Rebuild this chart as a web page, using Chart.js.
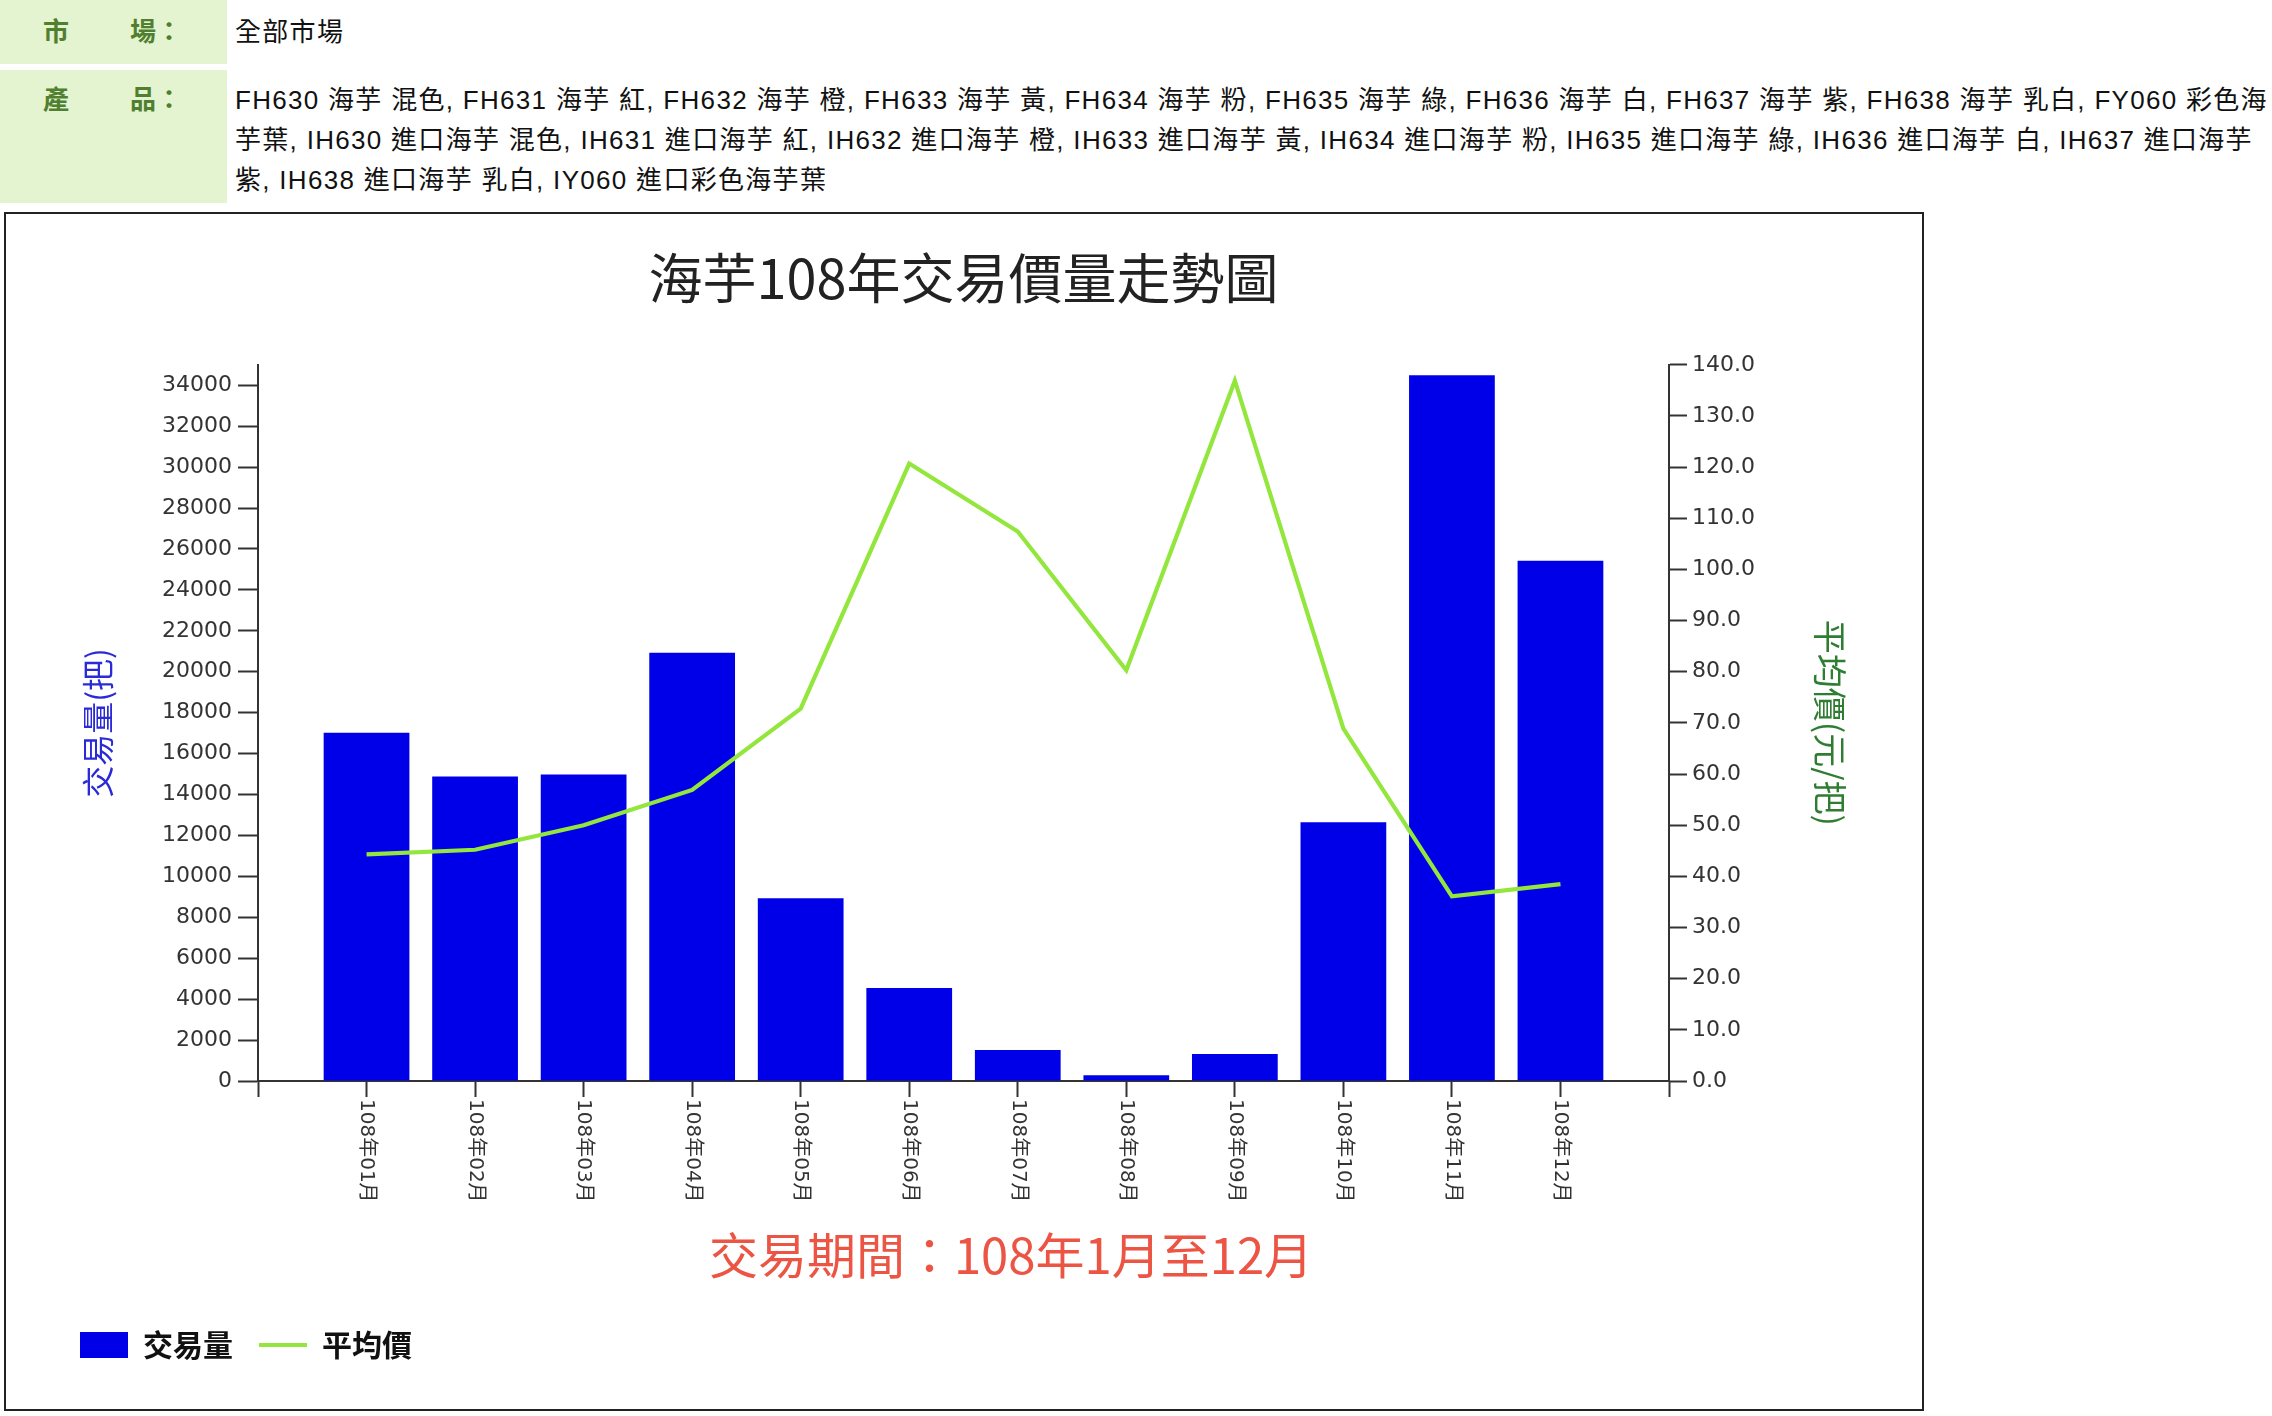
<!DOCTYPE html>
<html>
<head>
<meta charset="utf-8">
<title>海芋108年交易價量走勢圖</title>
<script src="https://cdn.jsdelivr.net/npm/chart.js@4.4.1/dist/chart.umd.min.js"></script>
<style>
  body { margin: 0; background: #fff; width: 2272px; height: 1416px; overflow: hidden;
         font-family: 'Liberation Sans', 'Noto Sans CJK TC', sans-serif; }
  .cell { position: absolute; left: 0; width: 227px; background: #e4f3d0; }
  .lab { position: absolute; font-size: 26px; font-weight: bold; color: #4f7f2f; line-height: 40px; }
  .val { position: absolute; left: 235px; font-size: 26px; color: #111; white-space: nowrap;
         line-height: 40px; letter-spacing: 1.3px; }
  #box { position: absolute; left: 4px; top: 212px; width: 1920px; height: 1199px;
         border: 2px solid #222; box-sizing: border-box; }
</style>
</head>
<body>
<div class="cell" style="top:0;height:64px"></div>
<div class="lab" style="left:43px;top:12px">市</div>
<div class="lab" style="left:130px;top:12px">場：</div>
<div class="val" style="top:12px">全部市場</div>

<div class="cell" style="top:70px;height:133px"></div>
<div class="lab" style="left:43px;top:80px">產</div>
<div class="lab" style="left:130px;top:80px">品：</div>
<div class="val" style="top:80px">FH630 海芋 混色, FH631 海芋 紅, FH632 海芋 橙, FH633 海芋 黃, FH634 海芋 粉, FH635 海芋 綠, FH636 海芋 白, FH637 海芋 紫, FH638 海芋 乳白, FY060 彩色海<br>芋葉, IH630 進口海芋 混色, IH631 進口海芋 紅, IH632 進口海芋 橙, IH633 進口海芋 黃, IH634 進口海芋 粉, IH635 進口海芋 綠, IH636 進口海芋 白, IH637 進口海芋<br>紫, IH638 進口海芋 乳白, IY060 進口彩色海芋葉</div>

<div id="box"><canvas id="chart" width="1916" height="1195"></canvas></div>

<script>
const months = ['108年01月', '108年02月', '108年03月', '108年04月', '108年05月', '108年06月',
                '108年07月', '108年08月', '108年09月', '108年10月', '108年11月', '108年12月'];
const volume = [17020, 14880, 14980, 20930, 8930, 4540, 1510, 280, 1320, 12650, 34490, 25420];
const avgPrice = [44.3, 45.2, 50.0, 56.9, 72.8, 120.7, 107.4, 80.3, 136.9, 68.9, 36.1, 38.5];
const volumeTicks = [0, 2000, 4000, 6000, 8000, 10000, 12000, 14000, 16000, 18000, 20000,
                     22000, 24000, 26000, 28000, 30000, 32000, 34000];
const priceTicks = [0, 10, 20, 30, 40, 50, 60, 70, 80, 90, 100, 110, 120, 130, 140];
const periodText = '交易期間：108年1月至12月';

const CJK = "'Noto Sans CJK TC', sans-serif";
const AXISFONT = "'DejaVu Sans', 'Noto Sans CJK TC', sans-serif";

// empty slot at each end so bars sit one full step in from the axes
const xLabels = [''].concat(months, ['']);
const pad = arr => [null].concat(arr, [null]);

// month labels run top to bottom, plus the red period line
const extraText = {
  id: 'extraText',
  afterDraw(chart) {
    const { ctx, chartArea, scales: { x } } = chart;
    ctx.save();
    ctx.fillStyle = '#333';
    ctx.font = '20px ' + AXISFONT;
    ctx.textAlign = 'left';
    ctx.textBaseline = 'middle';
    months.forEach((m, i) => {
      ctx.save();
      ctx.translate(x.getPixelForValue(i + 1), chartArea.bottom + 18);
      ctx.rotate(Math.PI / 2);
      ctx.fillText(m, 0, 0);
      ctx.restore();
    });
    ctx.fillStyle = '#ec5444';
    ctx.font = '49px ' + CJK;
    ctx.textAlign = 'center';
    ctx.fillText(periodText, 1005, 1041);
    ctx.restore();
  }
};

const tickGrid = len => ({ drawOnChartArea: false, drawTicks: true, tickLength: len,
                           tickColor: '#333', tickWidth: 2, offset: false });

new Chart(document.getElementById('chart'), {
  type: 'bar',
  data: {
    labels: xLabels,
    datasets: [
      {
        type: 'bar', label: '交易量', data: pad(volume), yAxisID: 'y', order: 1,
        backgroundColor: '#0000e8', categoryPercentage: 1, barPercentage: 0.79
      },
      {
        type: 'line', label: '平均價', data: pad(avgPrice), yAxisID: 'y1', order: 0,
        borderColor: '#92e63c', backgroundColor: '#92e63c', borderWidth: 4.2,
        pointRadius: 0, tension: 0
      }
    ]
  },
  options: {
    responsive: false,
    animation: false,
    layout: { padding: { left: 48, right: 0, top: 0, bottom: 39 } },
    plugins: {
      title: {
        display: true, text: '海芋108年交易價量走勢圖', fullSize: false, color: '#222',
        font: { family: CJK, size: 54, weight: 'normal' }, padding: { top: 32, bottom: 54 }
      },
      legend: {
        position: 'bottom', align: 'start',
        labels: {
          usePointStyle: true, pointStyleWidth: 48, boxHeight: 26, padding: 26, color: '#111',
          font: { family: CJK, size: 30, weight: 'bold' },
          sort: (a, b) => a.datasetIndex - b.datasetIndex,
          generateLabels: chart => Chart.defaults.plugins.legend.labels.generateLabels(chart).map(l => {
            l.pointStyle = l.datasetIndex === 0 ? 'rect' : 'line';
            if (l.datasetIndex === 1) l.lineWidth = 4;
            return l;
          })
        }
      },
      tooltip: { enabled: false }
    },
    scales: {
      x: {
        type: 'category', offset: false,
        grid: tickGrid(16),
        border: { color: '#333', width: 2 },
        ticks: { display: false, autoSkip: false },
        afterFit: s => { s.height = 223; }
      },
      y: {
        position: 'left', min: 0, max: 35000,
        afterBuildTicks: s => { s.ticks = volumeTicks.map(v => ({ value: v })); },
        ticks: { color: '#333', font: { family: AXISFONT, size: 22 }, padding: 6, callback: v => String(v) },
        grid: tickGrid(20),
        border: { color: '#333', width: 2 },
        title: { display: true, text: '交易量(把)', color: '#2a2ad6',
                 font: { family: CJK, size: 32 }, padding: { top: 25, bottom: 0 } },
        afterFit: s => { s.width = 204; }
      },
      y1: {
        position: 'right', min: 0, max: 140,
        afterBuildTicks: s => { s.ticks = priceTicks.map(v => ({ value: v })); },
        ticks: { color: '#333', font: { family: AXISFONT, size: 22 }, padding: 5, callback: v => v.toFixed(1) },
        grid: tickGrid(18),
        border: { color: '#333', width: 2 },
        title: { display: true, text: '平均價(元/把)', color: '#2e7d32',
                 font: { family: CJK, size: 34 }, padding: { top: 72, bottom: 0 } },
        afterFit: s => { s.width = 253; }
      }
    }
  },
  plugins: [extraText]
});
</script>
</body>
</html>
